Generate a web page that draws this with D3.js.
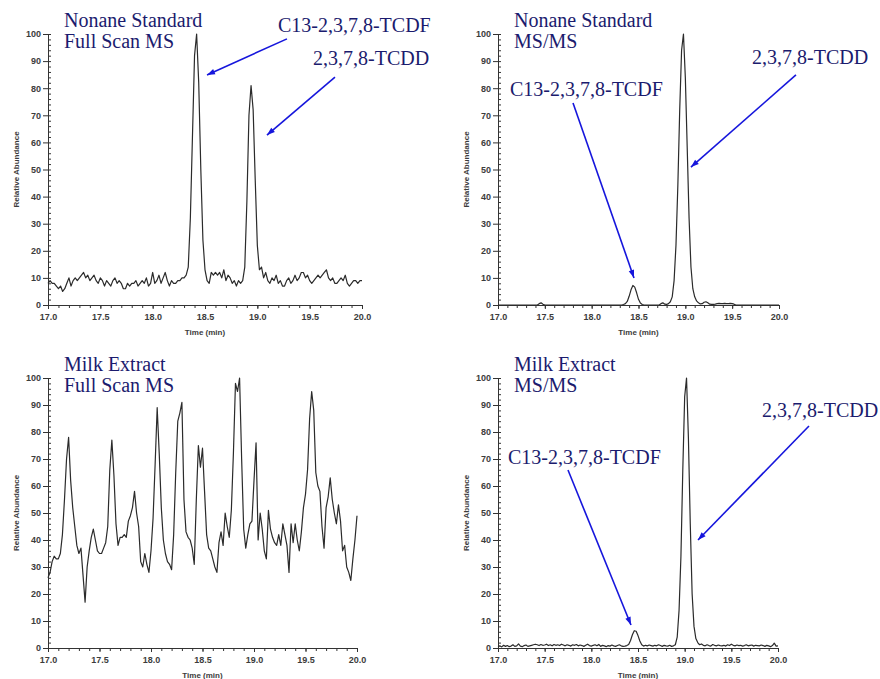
<!DOCTYPE html>
<html>
<head>
<meta charset="utf-8">
<script src="https://cdn.jsdelivr.net/npm/d3@7"></script>
<style>
  body { margin: 0; background: #fff; }
  .axis text { font-family: "Liberation Sans", Arial, sans-serif; font-size: 9px; font-weight: bold; fill: #3c3c3c; }
  .axis path, .axis line { stroke: #333; stroke-width: 1; }
  .title, .note { font-family: "Liberation Serif", "Times New Roman", serif; font-size: 20px; fill: #1b1b6e; }
  .axtitle { font-family: "Liberation Sans", Arial, sans-serif; font-size: 8px; font-weight: bold; fill: #3c3c3c; }
</style>
</head>
<body>
<script>
// scans every 0.02 min from 17.0 to 20.0 (151 points)
var t0 = 17.0, step = 0.02;

var xTicks = [17.0, 17.5, 18.0, 18.5, 19.0, 19.5, 20.0];
var yTicks = [0, 10, 20, 30, 40, 50, 60, 70, 80, 90, 100];

// Nonane standard, full scan MS
var nonaneFullScan = [
  8, 9, 8, 8, 7, 6, 7, 5, 6, 8,
  10, 7, 9, 10, 9, 10, 11, 12, 10, 11,
  9, 10, 11, 9, 8, 10, 9, 7, 9, 8,
  7, 9, 10, 8, 9, 8, 6, 6, 8, 7,
  8, 8, 9, 7, 8, 9, 8, 10, 7, 8,
  12, 8, 9, 11, 8, 10, 12, 9, 7, 9,
  8, 8, 9, 9, 10, 10, 11, 14, 32, 62,
  92, 100, 82, 50, 24, 13, 9, 8, 12, 11,
  12, 11, 12, 10, 13, 9, 11, 10, 8, 9,
  7, 9, 8, 9, 14, 38, 70, 81, 72, 46,
  22, 13, 14, 10, 12, 9, 8, 10, 9, 11,
  8, 9, 7, 7, 9, 10, 8, 9, 11, 9,
  10, 12, 12, 10, 11, 9, 8, 9, 10, 11,
  10, 11, 12, 13, 10, 9, 10, 8, 8, 9,
  10, 9, 11, 8, 7, 8, 9, 9, 8, 9,
  9
];

// Nonane standard, MS/MS
var nonaneMSMS = [
  0, 0, 0, 0, 0, 0, 0, 0, 0, 0,
  0, 0, 0, 0, 0, 0, 0, 0, 0, 0,
  0, 0, 0.5, 0.8, 0.3, 0, 0, 0, 0, 0,
  0, 0, 0, 0, 0, 0, 0, 0, 0, 0,
  0, 0, 0, 0, 0, 0, 0, 0, 0, 0,
  0, 0, 0, 0, 0, 0, 0, 0, 0, 0,
  0, 0, 0, 0, 0, 0, 0, 0.2, 0.5, 1.3,
  3.2, 5.6, 7.2, 6.6, 4.5, 2.1, 0.7, 0.2, 0, 0,
  0, 0, 0, 0, 0, 0, 0, 0.5, 0.8, 0.3,
  0.2, 0.5, 1.2, 3, 9, 22, 44, 72, 94, 100,
  84, 58, 32, 14, 6, 3, 1.5, 0.8, 0.4, 0.5,
  1, 1.2, 0.8, 0.3, 0.2, 0.2, 0.3, 0.5, 0.6, 0.5,
  0.5, 0.6, 0.5, 0.5, 0.6, 0.5, 0.3, 0, 0, 0,
  0, 0, 0, 0, 0, 0, 0, 0, 0, 0,
  0, 0, 0, 0, 0, 0, 0, 0, 0, 0,
  0
];

// Milk extract, full scan MS
var milkFullScan = [
  26, 28, 32, 34, 33, 33, 35, 42, 55, 70,
  78, 62, 52, 45, 38, 35, 37, 27, 17, 30,
  36, 41, 44, 40, 36, 35, 35, 37, 39, 45,
  66, 77, 64, 46, 38, 41, 41, 42, 41, 47,
  49, 52, 58, 50, 45, 32, 30, 35, 31, 28,
  36, 48, 68, 89, 72, 52, 40, 35, 32, 31,
  29, 42, 65, 84, 87, 91, 55, 43, 41, 40,
  37, 31, 55, 75, 67, 74, 58, 42, 37, 36,
  33, 30, 28, 39, 43, 38, 50, 45, 41, 51,
  72, 98, 95, 100, 70, 44, 37, 42, 46, 47,
  62, 76, 40, 50, 44, 36, 33, 51, 44, 41,
  39, 38, 42, 38, 46, 42, 38, 28, 46, 39,
  46, 40, 36, 43, 52, 57, 66, 85, 95, 88,
  65, 60, 58, 45, 37, 52, 56, 63, 55, 50,
  46, 53, 47, 36, 38, 30, 28, 25, 33, 40,
  49
];

// Milk extract, MS/MS
var milkMSMS = [
  0.5, 0.8, 0.4, 1.0, 0.6, 0.9, 0.5, 0.7, 1.2, 0.6,
  0.8, 1.5, 0.7, 0.5, 0.9, 1.1, 0.6, 0.8, 1.0, 1.2,
  1.4, 1.2, 0.9, 1.3, 1.0, 1.1, 1.4, 0.9, 1.2, 0.8,
  1.3, 1.0, 1.2, 0.9, 1.4, 1.1, 0.8, 1.2, 1.0, 0.7,
  1.2, 1.0, 1.3, 0.8, 1.1, 0.9, 0.6, 1.0, 1.4, 0.9,
  0.7, 1.0, 1.2, 0.8, 1.3, 0.6, 1.0, 0.8, 0.5, 0.9,
  0.7, 1.1, 0.8, 0.6, 0.9, 1.2, 0.8, 0.6, 0.7, 0.9,
  1.3, 2.8, 4.9, 6.4, 6.2, 4.6, 2.6, 1.2, 0.7, 1.0,
  0.8, 1.1, 0.9, 0.7, 1.0, 0.8, 1.2, 0.9, 0.6, 1.0,
  0.8, 0.7, 1.0, 0.6, 0.8, 1.2, 4, 14, 34, 66,
  93, 100, 78, 46, 20, 8, 3.5, 2, 1.2, 1.5,
  1.0, 0.8, 1.2, 0.9, 0.7, 1.3, 1.0, 0.8, 1.1, 0.9,
  0.8, 1.0, 0.7, 1.2, 0.9, 1.4, 1.0, 0.8, 1.1, 0.9,
  1.0, 0.7, 0.9, 1.2, 0.8, 1.0, 1.1, 0.7, 1.0, 0.9,
  0.8, 1.1, 0.9, 0.6, 1.0, 0.8, 0.5, 0.9, 1.8, 0.7,
  0.8
];

var W = 880, H = 679;
var arrowColor = "#1616dc";

// annotation points are given in the panel's own (time, abundance) units
var panels = [
  { left: 48, right: 362, bottom: 305, top: 34, data: nonaneFullScan,
    title: ["Nonane Standard", "Full Scan MS"],
    notes: [
      { text: "C13-2,3,7,8-TCDF", at: [19.197, 100.7], from: [19.283, 98.2], to: [18.519, 84.9] },
      { text: "2,3,7,8-TCDD", at: [19.532, 88.6], from: [19.742, 84.1], to: [19.092, 62.7] }
    ] },
  { left: 498, right: 779, bottom: 305, top: 34, data: nonaneMSMS,
    title: ["Nonane Standard", "MS/MS"],
    notes: [
      { text: "2,3,7,8-TCDD", at: [19.712, 88.9], from: [20.181, 84.9], to: [19.060, 50.9] },
      { text: "C13-2,3,7,8-TCDF", at: [17.128, 77.1], from: [17.801, 74.5], to: [18.452, 10.0] }
    ] },
  { left: 48, right: 357, bottom: 648, top: 378, data: milkFullScan,
    title: ["Milk Extract", "Full Scan MS"],
    notes: [] },
  { left: 498, right: 778, bottom: 648, top: 378, data: milkMSMS,
    title: ["Milk Extract", "MS/MS"],
    notes: [
      { text: "2,3,7,8-TCDD", at: [19.829, 85.6], from: [20.332, 82.2], to: [19.143, 40.0] },
      { text: "C13-2,3,7,8-TCDF", at: [17.107, 68.1], from: [17.75, 65.9], to: [18.425, 8.5] }
    ] }
];

var svg = d3.select("body").append("svg")
  .attr("width", W)
  .attr("height", H);

svg.append("rect").attr("width", W).attr("height", H).attr("fill", "#fff");

svg.append("defs").append("marker")
  .attr("id", "head")
  .attr("viewBox", "0 0 10 10")
  .attr("refX", 10)
  .attr("refY", 5)
  .attr("markerUnits", "userSpaceOnUse")
  .attr("markerWidth", 10)
  .attr("markerHeight", 8)
  .attr("orient", "auto")
  .append("path")
  .attr("d", "M0,1.5L10,5L0,8.5Z")
  .attr("fill", arrowColor);

var xMinor = d3.range(170, 201).map(function(v) { return v / 10; });
var yMinor = d3.range(0, 101, 2);

panels.forEach(function(p) {
  var x = d3.scaleLinear().domain([17, 20]).range([p.left, p.right]);
  var y = d3.scaleLinear().domain([0, 100]).range([p.bottom, p.top]);
  var g = svg.append("g");

  // minor ticks
  g.append("g")
    .attr("class", "axis")
    .attr("transform", "translate(0," + p.bottom + ")")
    .call(d3.axisBottom(x).tickValues(xMinor).tickSize(3).tickSizeOuter(0).tickFormat(""));
  g.append("g")
    .attr("class", "axis")
    .attr("transform", "translate(" + p.left + ",0)")
    .call(d3.axisRight(y).tickValues(yMinor).tickSize(3).tickSizeOuter(0).tickFormat(""));

  // major ticks with labels
  g.append("g")
    .attr("class", "axis")
    .attr("transform", "translate(0," + p.bottom + ")")
    .call(d3.axisBottom(x).tickValues(xTicks).tickSize(4).tickSizeOuter(0).tickPadding(5).tickFormat(d3.format(".1f")));
  g.append("g")
    .attr("class", "axis")
    .attr("transform", "translate(" + p.left + ",0)")
    .call(d3.axisLeft(y).tickValues(yTicks).tickSize(5).tickSizeOuter(0).tickPadding(2));

  g.append("text")
    .attr("class", "axtitle")
    .attr("transform", "translate(" + (p.left - 32) + "," + ((p.top + p.bottom) / 2) + ") rotate(-90)")
    .attr("text-anchor", "middle")
    .attr("dy", "0.35em")
    .text("Relative Abundance");

  g.append("text")
    .attr("class", "axtitle")
    .attr("x", (p.left + p.right) / 2)
    .attr("y", p.bottom + 30)
    .attr("text-anchor", "middle")
    .text("Time (min)");

  var line = d3.line()
    .x(function(d, i) { return x(t0 + i * step); })
    .y(function(d) { return y(d); });

  g.append("path")
    .datum(p.data)
    .attr("d", line)
    .attr("fill", "none")
    .attr("stroke", "#2b2b2b")
    .attr("stroke-width", 1.2)
    .attr("stroke-linejoin", "round");

  p.title.forEach(function(s, i) {
    g.append("text")
      .attr("class", "title")
      .attr("x", p.left + 16)
      .attr("y", p.top - 7 + i * 21)
      .text(s);
  });

  p.notes.forEach(function(n) {
    g.append("text")
      .attr("class", "note")
      .attr("x", x(n.at[0]))
      .attr("y", y(n.at[1]))
      .text(n.text);
    g.append("line")
      .attr("x1", x(n.from[0])).attr("y1", y(n.from[1]))
      .attr("x2", x(n.to[0])).attr("y2", y(n.to[1]))
      .attr("stroke", arrowColor)
      .attr("stroke-width", 1.6)
      .attr("marker-end", "url(#head)");
  });
});
</script>
</body>
</html>
